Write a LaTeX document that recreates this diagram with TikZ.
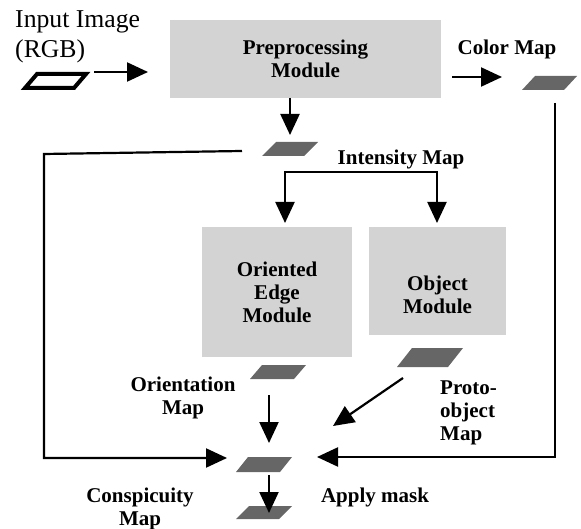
\documentclass[tikz,border=0pt]{standalone}
\usepackage{fontspec}
\setmainfont{Liberation Serif}
\usetikzlibrary{arrows.meta}
\definecolor{boxgray}{RGB}{211,211,211}
\definecolor{mapgray}{RGB}{102,102,102}
\newcommand\bflabel{\fontsize{21}{23}\selectfont\bfseries}
\newcommand\rmlabel{\fontsize{25.7}{30}\selectfont}
\begin{document}
\begin{tikzpicture}[x=1pt,y=-1pt,
  module/.style={fill=boxgray, inner sep=0pt, font=\bflabel, align=center},
  lbl/.style={font=\bflabel, inner sep=0pt, align=center},
  conn/.style={line width=2.2pt},
  flow/.style={conn, -{Triangle[length=21pt,width=19pt]}},
  % a slanted map slab: total width / height / slant
  pics/slab/.style args={#1/#2/#3}{code={
    \path[pic actions] (-#1/2,#2/2) -- ++(#3,-#2) -- (#1/2,-#2/2) -- ++(-#3,#2) -- cycle;
    \coordinate (-c) at (0,0);}},
  mapfill/.style={fill=mapgray},
]
\useasboundingbox (0,0) rectangle (581,529);

% processing modules
\node[module, minimum width=271pt, minimum height=78pt] (pre) at (305.5,59) {Preprocessing\\Module};
\node[module, minimum width=150pt, minimum height=130pt] (edge) at (277,292) {Oriented\\Edge\\Module};
\node[module, minimum width=137pt, minimum height=108pt] (obj) at (437.5,281) {};
\node[lbl] (objtext) at (437.5,295) {Object\\Module};

% image and feature maps
\pic[fill=white, draw=black, line width=4pt] (input) at (55.5,81) {slab=61/14/12};
\pic[mapfill] (cmap) at (549.5,83) {slab=55/14/13};
\pic[mapfill] (imap) at (290,149) {slab=56/14/14};
\pic[mapfill] (omap) at (278,372) {slab=56/14/12};
\pic[mapfill] (pmap) at (430,357.5) {slab=66/19/15};
\pic[mapfill] (smap) at (264,464.5) {slab=56/15/12};
\pic[mapfill] (mmap) at (264,512.5) {slab=56/13/13};

% labels (multi-line labels sit on the baseline of their last line)
\node[font=\rmlabel, align=left, anchor=base west, inner sep=0pt] (intext) at (15,58) {Input Image\\(RGB)};
\node[lbl, anchor=base] (ctext) at (507,55) {Color Map};
\node[lbl, anchor=base] (itext) at (401,165) {Intensity Map};
\node[lbl, anchor=base] (otext) at (183,414) {Orientation\\Map};
\node[lbl, anchor=base] (stext) at (140,525) {Conspicuity\\Map};
\node[lbl, anchor=base west, align=left] (ptext) at (440,440) {Proto-\\object\\Map};
\node[lbl, anchor=base] (atext) at (375,502) {Apply mask};

% connector ends
\coordinate (inA) at (94,72);   \coordinate (inB) at (148,72);
\coordinate (preA) at (290,98); \coordinate (preB) at (290,135);
\coordinate (colA) at (452,77); \coordinate (colB) at (502,77);
\coordinate (brL) at (285,223); \coordinate (brR) at (437,223);
\coordinate (loopA) at (242,151); \coordinate (loopB) at (227,458);
\coordinate (colDown) at (555,103); \coordinate (colIn) at (317,457);
\coordinate (oriA) at (269,395); \coordinate (oriB) at (269,443);
\coordinate (proA) at (403,378); \coordinate (proB) at (333,426);
\coordinate (mskA) at (269,475); \coordinate (mskB) at (269,513);

% connectors
\draw[flow] (inA) -- (inB);
\draw[flow] (preA) -- (preB);
\draw[flow] (colA) -- (colB);
\draw[conn, {Triangle[length=21pt,width=19pt]}-{Triangle[length=21pt,width=19pt]}]
  (brL) -- (brL |- 0,172) -- (brR |- 0,172) -- (brR);
\draw[flow] (loopA) -- (44,154) -- (44,458) -- (loopB);
\draw[flow] (colDown) |- (colIn);
\draw[flow] (oriA) -- (oriB);
\draw[flow] (proA) -- (proB);
\draw[flow] (mskA) -- (mskB);
\end{tikzpicture}
\end{document}
